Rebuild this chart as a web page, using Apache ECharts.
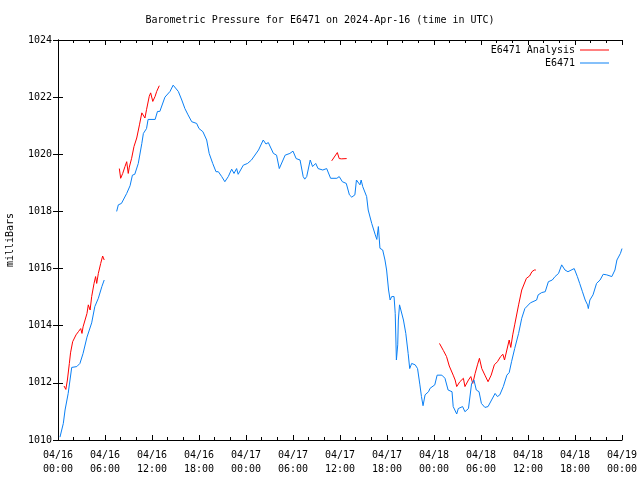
<!DOCTYPE html>
<html>
<head>
<meta charset="utf-8">
<script src="https://cdn.jsdelivr.net/npm/echarts@6/dist/echarts.min.js"></script>
<style>html,body{margin:0;padding:0;background:#fff}#c{width:640px;height:480px}</style>
</head>
<body>
<div id="c"></div>
<script>
// Hours since 2024-04-16 00:00 UTC, pressure in milliBars. null = gap.
const titleText = 'Barometric Pressure for E6471 on 2024-Apr-16 (time in UTC)';
const seriesNames = ['E6471 Analysis', 'E6471'];
const yTicks = [1010, 1012, 1014, 1016, 1018, 1020, 1022, 1024];
const xTickDays = ['04/16', '04/17', '04/18', '04/19'];

const analysisPoints = [
  [0.77,1011.89],[1.0,1011.77],[1.2,1012.1],[1.45,1012.68],[1.6,1013.05],[1.87,1013.44],[2.3,1013.68],[2.6,1013.79],[2.9,1013.9],[3.06,1013.73],[3.2,1013.96],[3.7,1014.43],[3.87,1014.73],[4.1,1014.55],[4.3,1015.02],[4.6,1015.48],[4.8,1015.72],[4.94,1015.48],[5.15,1015.83],[5.45,1016.18],[5.7,1016.44],[5.9,1016.3],
  [6.8,null],
  [7.83,1019.5],[8.0,1019.16],[8.26,1019.33],[8.55,1019.57],[8.77,1019.74],[8.97,1019.33],[9.1,1019.55],[9.4,1019.86],[9.7,1020.27],[10.05,1020.57],[10.4,1021.03],[10.7,1021.45],[10.9,1021.5],[11.1,1021.27],[11.3,1021.56],[11.65,1022.03],[11.83,1022.15],[12.1,1021.85],[12.4,1022.03],[12.6,1022.2],[12.93,1022.4],
  [20,null],
  [34.94,1019.77],[35.36,1019.94],[35.66,1020.06],[35.9,1019.85],[36.2,1019.84],[36.85,1019.85],
  [42,null],
  [48.7,1013.38],[49.2,1013.13],[49.6,1012.92],[49.95,1012.59],[50.45,1012.27],[50.7,1012.1],[50.9,1011.87],[51.3,1012.04],[51.75,1012.16],[51.95,1011.87],[52.4,1012.1],[52.7,1012.22],[52.95,1011.98],[53.25,1012.33],[53.55,1012.63],[53.8,1012.86],[54.1,1012.5],[54.5,1012.27],[54.9,1012.04],[55.3,1012.27],[55.7,1012.63],[56.1,1012.74],[56.5,1012.92],[56.8,1013.0],[57.0,1012.8],[57.3,1013.15],[57.6,1013.5],[57.8,1013.24],[58.05,1013.68],[58.3,1014.03],[58.8,1014.73],[59.2,1015.25],[59.8,1015.66],[60.2,1015.74],[60.5,1015.89],[60.8,1015.95],[61.0,1015.95]
];

const stationPoints = [
  [0.25,1010.1],[0.68,1010.58],[0.9,1011.05],[1.3,1011.63],[1.75,1012.54],[2.4,1012.57],[2.8,1012.68],[3.2,1013.03],[3.7,1013.6],[4.3,1014.1],[4.7,1014.67],[5.15,1014.96],[5.6,1015.37],[5.9,1015.6],
  [6.7,null],
  [7.49,1018.0],[7.7,1018.23],[8.1,1018.28],[8.77,1018.63],[9.2,1018.9],[9.5,1019.27],[9.8,1019.3],[10.25,1019.68],[10.7,1020.38],[10.9,1020.73],[11.3,1020.9],[11.5,1021.22],[12.4,1021.22],[12.7,1021.5],[13.0,1021.5],[13.65,1022.0],[14.3,1022.2],[14.7,1022.42],[15.36,1022.2],[15.8,1021.9],[16.2,1021.6],[16.6,1021.38],[17.07,1021.14],[17.7,1021.08],[18.0,1020.9],[18.5,1020.79],[18.98,1020.5],[19.3,1020.03],[19.75,1019.68],[20.17,1019.39],[20.47,1019.39],[20.9,1019.22],[21.3,1019.04],[21.74,1019.22],[22.17,1019.48],[22.47,1019.33],[22.8,1019.5],[23.0,1019.3],[23.66,1019.62],[24.2,1019.68],[24.7,1019.8],[25.6,1020.15],[26.2,1020.5],[26.55,1020.36],[26.85,1020.41],[27.5,1020.03],[27.9,1019.97],[28.25,1019.5],[29.0,1019.97],[29.6,1020.03],[30.0,1020.11],[30.4,1019.85],[30.9,1019.8],[31.3,1019.22],[31.5,1019.13],[31.75,1019.22],[32.2,1019.8],[32.5,1019.57],[32.9,1019.68],[33.2,1019.5],[33.8,1019.45],[34.3,1019.5],[34.5,1019.45],[34.8,1019.16],[35.6,1019.16],[35.9,1019.22],[36.3,1019.04],[36.8,1018.98],[37.2,1018.58],[37.5,1018.5],[37.9,1018.58],[38.1,1019.1],[38.3,1019.1],[38.55,1018.93],[38.7,1019.1],[38.9,1018.87],[39.4,1018.52],[39.6,1018.05],[40.05,1017.58],[40.5,1017.18],[40.7,1017.02],[40.9,1017.47],[41.1,1016.71],[41.45,1016.65],[41.74,1016.3],[41.95,1015.95],[42.2,1015.25],[42.4,1014.9],[42.6,1015.02],[42.9,1015.02],[43.05,1014.43],[43.2,1012.8],[43.37,1013.33],[43.45,1014.2],[43.6,1014.73],[43.75,1014.69],[44.1,1014.2],[44.4,1013.73],[44.7,1013.03],[44.9,1012.5],[45.15,1012.68],[45.6,1012.63],[45.9,1012.5],[46.2,1011.93],[46.4,1011.52],[46.6,1011.2],[46.86,1011.58],[47.3,1011.69],[47.5,1011.81],[48.1,1011.93],[48.4,1012.27],[49.0,1012.27],[49.4,1012.16],[49.8,1011.75],[50.3,1011.69],[50.45,1011.17],[50.9,1010.91],[51.1,1011.1],[51.65,1011.17],[51.95,1010.99],[52.4,1011.1],[52.8,1011.98],[53.1,1012.1],[53.4,1011.75],[53.75,1011.69],[54.05,1011.28],[54.5,1011.14],[54.9,1011.17],[55.35,1011.4],[55.8,1011.63],[56.1,1011.52],[56.4,1011.58],[56.85,1011.87],[57.3,1012.27],[57.6,1012.36],[57.9,1012.74],[58.3,1013.2],[58.8,1013.73],[59.2,1014.26],[59.6,1014.6],[60.3,1014.8],[61.1,1014.9],[61.3,1015.08],[61.75,1015.16],[62.2,1015.19],[62.6,1015.54],[63.1,1015.6],[63.45,1015.72],[63.9,1015.83],[64.3,1016.13],[64.72,1015.95],[65.1,1015.89],[65.9,1016.0],[66.3,1015.72],[66.6,1015.48],[66.95,1015.19],[67.3,1014.9],[67.6,1014.73],[67.7,1014.6],[67.9,1014.9],[68.3,1015.08],[68.75,1015.48],[69.2,1015.6],[69.6,1015.8],[70.05,1015.78],[70.7,1015.72],[71.1,1015.95],[71.35,1016.3],[71.8,1016.53],[72,1016.7]
];

const FONT = '"DejaVu Sans Mono", "Liberation Mono", monospace';
const toData = pts => pts.map(p => p[1] === null ? [p[0], '-'] : p);

function xLabel(v) {
  const day = xTickDays[Math.floor(v / 24)];
  const hr = v % 24;
  return day + '\n' + (hr < 10 ? '0' : '') + hr + ':00';
}

const chart = echarts.init(document.getElementById('c'), null, {renderer: 'canvas'});
const axisCommon = {
  axisLine: {show: true, lineStyle: {color: '#000', width: 1}},
  splitLine: {show: false}
};
chart.setOption({
  animation: false,
  backgroundColor: '#fff',
  title: {
    text: titleText, left: 'center', top: 10,
    textStyle: {fontFamily: FONT, fontSize: 10, fontWeight: 'normal', color: '#000'}
  },
  legend: {
    orient: 'vertical', right: 26, top: 40, align: 'right',
    itemWidth: 29, itemHeight: 8, itemGap: 3, itemStyle: {},
    textStyle: {fontFamily: FONT, fontSize: 10, color: '#000'},
    data: seriesNames.map(n => ({name: n, icon: 'path://M0,4 L29,4 L29,5 L0,5 Z'}))
  },
  grid: {left: 58, right: 18, top: 40, bottom: 40, containLabel: false, outerBoundsMode: 'none'},
  xAxis: [
    Object.assign({
      type: 'value', min: 0, max: 72, interval: 6, position: 'bottom',
      axisTick: {inside: true, length: 5, lineStyle: {color: '#000'}},
      minorTick: {show: true, splitNumber: 3, length: 3, lineStyle: {color: '#000'}},
      axisLabel: {formatter: xLabel, fontFamily: FONT, fontSize: 10, color: '#000', margin: 8, lineHeight: 14}
    }, axisCommon),
    Object.assign({
      type: 'value', min: 0, max: 72, interval: 6, position: 'top',
      axisTick: {inside: true, length: 5, lineStyle: {color: '#000'}},
      minorTick: {show: true, splitNumber: 3, length: 3, lineStyle: {color: '#000'}},
      axisLabel: {show: false}
    }, axisCommon)
  ],
  yAxis: [
    Object.assign({
      type: 'value', min: yTicks[0], max: yTicks[yTicks.length - 1], interval: 2, position: 'left',
      name: 'milliBars', nameLocation: 'middle', nameGap: 43, nameRotate: 90,
      nameTextStyle: {fontFamily: FONT, fontSize: 10, color: '#000'},
      axisTick: {inside: true, length: 5, lineStyle: {color: '#000'}},
      axisLabel: {formatter: v => String(v), fontFamily: FONT, fontSize: 10, color: '#000', margin: 6}
    }, axisCommon),
    Object.assign({
      type: 'value', min: yTicks[0], max: yTicks[yTicks.length - 1], interval: 2, position: 'right',
      axisTick: {inside: true, length: 5, lineStyle: {color: '#000'}},
      axisLabel: {show: false}
    }, axisCommon)
  ],
  series: [
    {
      name: seriesNames[0], type: 'line', xAxisIndex: 0, yAxisIndex: 0,
      data: toData(analysisPoints), symbol: 'none', connectNulls: false,
      lineStyle: {color: '#ff0000', width: 1}, itemStyle: {color: '#ff0000'}
    },
    {
      name: seriesNames[1], type: 'line', xAxisIndex: 0, yAxisIndex: 0,
      data: toData(stationPoints), symbol: 'none', connectNulls: false,
      lineStyle: {color: '#0a80f5', width: 1}, itemStyle: {color: '#0a80f5'}
    }
  ]
});
</script>
</body>
</html>
